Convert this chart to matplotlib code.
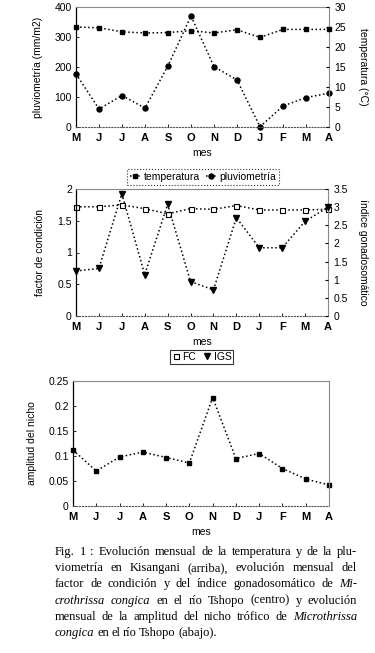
import matplotlib
matplotlib.use("Agg")
import matplotlib.pyplot as plt
from matplotlib.ticker import FuncFormatter
from matplotlib.lines import Line2D

plt.rcParams['font.family'] = ['Liberation Sans', 'DejaVu Sans']

# data
meses = ["M", "J", "J", "A", "S", "O", "N", "D", "J", "F", "M", "A"]
pluviometria = [177, 60, 105, 63, 204, 370, 201, 157, 1, 70, 98, 113]
temperatura = [25.0, 24.8, 23.8, 23.5, 23.6, 24.1, 23.5, 24.3, 22.4, 24.4, 24.4, 24.4]
fc = [1.72, 1.72, 1.75, 1.69, 1.61, 1.69, 1.68, 1.74, 1.67, 1.67, 1.67, 1.68]
igs = [1.24, 1.31, 3.37, 1.14, 3.08, 0.95, 0.72, 2.71, 1.88, 1.88, 2.61, 3.0]
nicho = [0.112, 0.070, 0.098, 0.108, 0.097, 0.086, 0.217, 0.095, 0.105, 0.075, 0.054, 0.042]

W, H = 375, 653
fig = plt.figure(figsize=(W / 100, H / 100), dpi=100)
fmt = FuncFormatter(lambda v, p: "%g" % v)
x = list(range(len(meses)))


def box(l, t, r, b):
    return [l / W, 1 - b / H, (r - l) / W, (b - t) / H]


def style(ax):
    ax.set_xlim(0, 11)
    ax.set_xticks(x)
    ax.set_xticklabels(meses, fontsize=8, fontweight="bold")
    ax.tick_params(axis="x", direction="in", length=2, pad=4, width=0.6)
    ax.tick_params(axis="y", direction="in", length=2, labelsize=7.5, pad=3, width=0.6)
    ax.spines["left"].set_linewidth(0.9)
    ax.spines["top"].set_color("#888888")
    ax.spines["right"].set_color("#888888")
    ax.spines["top"].set_linewidth(0.8)
    ax.spines["right"].set_linewidth(0.8)
    ax.spines["bottom"].set_linestyle(":")
    ax.spines["bottom"].set_color("#555555")
    ax.yaxis.set_major_formatter(fmt)
    ax.set_xlabel("mes", fontsize=7.5, labelpad=4)


line_kw = dict(color="black", ls=":", lw=1.1, clip_on=False)

# top: pluviometria / temperatura
ax1 = fig.add_axes(box(76, 7, 329, 127))
p1, = ax1.plot(x, pluviometria, marker="o", ms=3.6, **line_kw)
ax1.set_ylim(0, 400)
ax1.set_yticks([0, 100, 200, 300, 400])
style(ax1)
ax1.set_ylabel("pluviometría (mm/m2)", fontsize=7.5, labelpad=8)
ax1b = ax1.twinx()
p2, = ax1b.plot(x, temperatura, marker="s", ms=2.8, **line_kw)
ax1b.set_ylim(0, 30)
ax1b.set_yticks(range(0, 31, 5))
ax1b.tick_params(axis="y", direction="in", length=2, labelsize=7.5, pad=4)
ax1b.yaxis.set_major_formatter(fmt)
for s in ax1b.spines.values():
    s.set_visible(False)
ax1b.set_ylabel("temperatura (°C)", fontsize=7.5, rotation=-90, labelpad=16)
leg1 = fig.legend([p2, p1], ["temperatura", "pluviometría"], loc="center",
                  bbox_to_anchor=(203 / W, 1 - 177 / H), ncol=2, fontsize=7.5,
                  handlelength=1.0, handletextpad=0.3, columnspacing=0.6,
                  borderpad=0.25, fancybox=False, edgecolor="black")
leg1.get_frame().set_linestyle(":")
leg1.get_frame().set_linewidth(0.8)

# middle: FC / IGS
ax2 = fig.add_axes(box(76, 189, 328, 316))
h1, = ax2.plot(x, fc, marker="s", ms=3.6, mfc="white", mec="black", mew=0.8, **line_kw)
ax2.set_ylim(0, 2)
ax2.set_yticks([0, 0.5, 1, 1.5, 2])
style(ax2)
ax2.set_ylabel("factor de condición", fontsize=7.5, labelpad=9)
ax2b = ax2.twinx()
h2, = ax2b.plot(x, igs, marker="v", ms=3.8, **line_kw)
ax2b.set_ylim(0, 3.5)
ax2b.set_yticks([0, 0.5, 1, 1.5, 2, 2.5, 3, 3.5])
ax2b.tick_params(axis="y", direction="in", length=2, labelsize=7.5, pad=4)
ax2b.yaxis.set_major_formatter(fmt)
for s in ax2b.spines.values():
    s.set_visible(False)
ax2b.set_ylabel("índice gonadosomático", fontsize=7.5, rotation=-90, labelpad=14)
hh1 = Line2D([], [], color="black", ls="none", marker="s", ms=3.6, mfc="white", mew=0.8)
hh2 = Line2D([], [], color="black", ls="none", marker="v", ms=3.8)
leg2 = fig.legend([hh1, hh2], ["FC", "IGS"], loc="center",
                  bbox_to_anchor=(202 / W, 1 - 357 / H), ncol=2, fontsize=7.5,
                  handlelength=0.6, handletextpad=0.3, columnspacing=0.8,
                  borderpad=0.2, fancybox=False, edgecolor="black")
leg2.get_frame().set_linewidth(0.8)

# bottom: amplitud del nicho
ax3 = fig.add_axes(box(73, 381, 329, 506))
ax3.plot(x, nicho, marker="s", ms=3.4, **line_kw)
ax3.set_ylim(0, 0.25)
ax3.set_yticks([0, 0.05, 0.1, 0.15, 0.2, 0.25])
style(ax3)
ax3.set_ylabel("amplitud del nicho", fontsize=7.5, labelpad=8)

# caption, justified line by line
caption = [
    [("Fig. 1 : Evolución mensual de la temperatura y de la plu-", False)],
    [("viometría en Kisangani (arriba), evolución mensual del", False)],
    [("factor de condición y del índice gonadosomático de", False), ("Mi-", True)],
    [("crothrissa congica", True), ("en el río Tshopo (centro) y evolución", False)],
    [("mensual de la amplitud del nicho trófico de", False), ("Microthrissa", True)],
    [("congica", True), ("en el río Tshopo (abajo).", False)],
]
renderer = fig.canvas.get_renderer()
x0, x1 = 55, 357
base = 555
for i, parts in enumerate(caption):
    words = []
    for txt, it in parts:
        for w in txt.split():
            words.append((w, it))
    texts = []
    for w, it in words:
        t = fig.text(0, 1 - (base + i * 16.2) / H, w, fontsize=9,
                     family="Liberation Serif", style="italic" if it else "normal",
                     va="baseline", ha="left")
        texts.append(t)
    widths = [t.get_window_extent(renderer).width for t in texts]
    if i < len(caption) - 1:
        gap = (x1 - x0 - sum(widths)) / (len(words) - 1)
    else:
        gap = 2.5
    pos = x0
    for t, wd in zip(texts, widths):
        t.set_x(pos / W)
        pos += wd + gap

fig.savefig("out.png", dpi=100)
